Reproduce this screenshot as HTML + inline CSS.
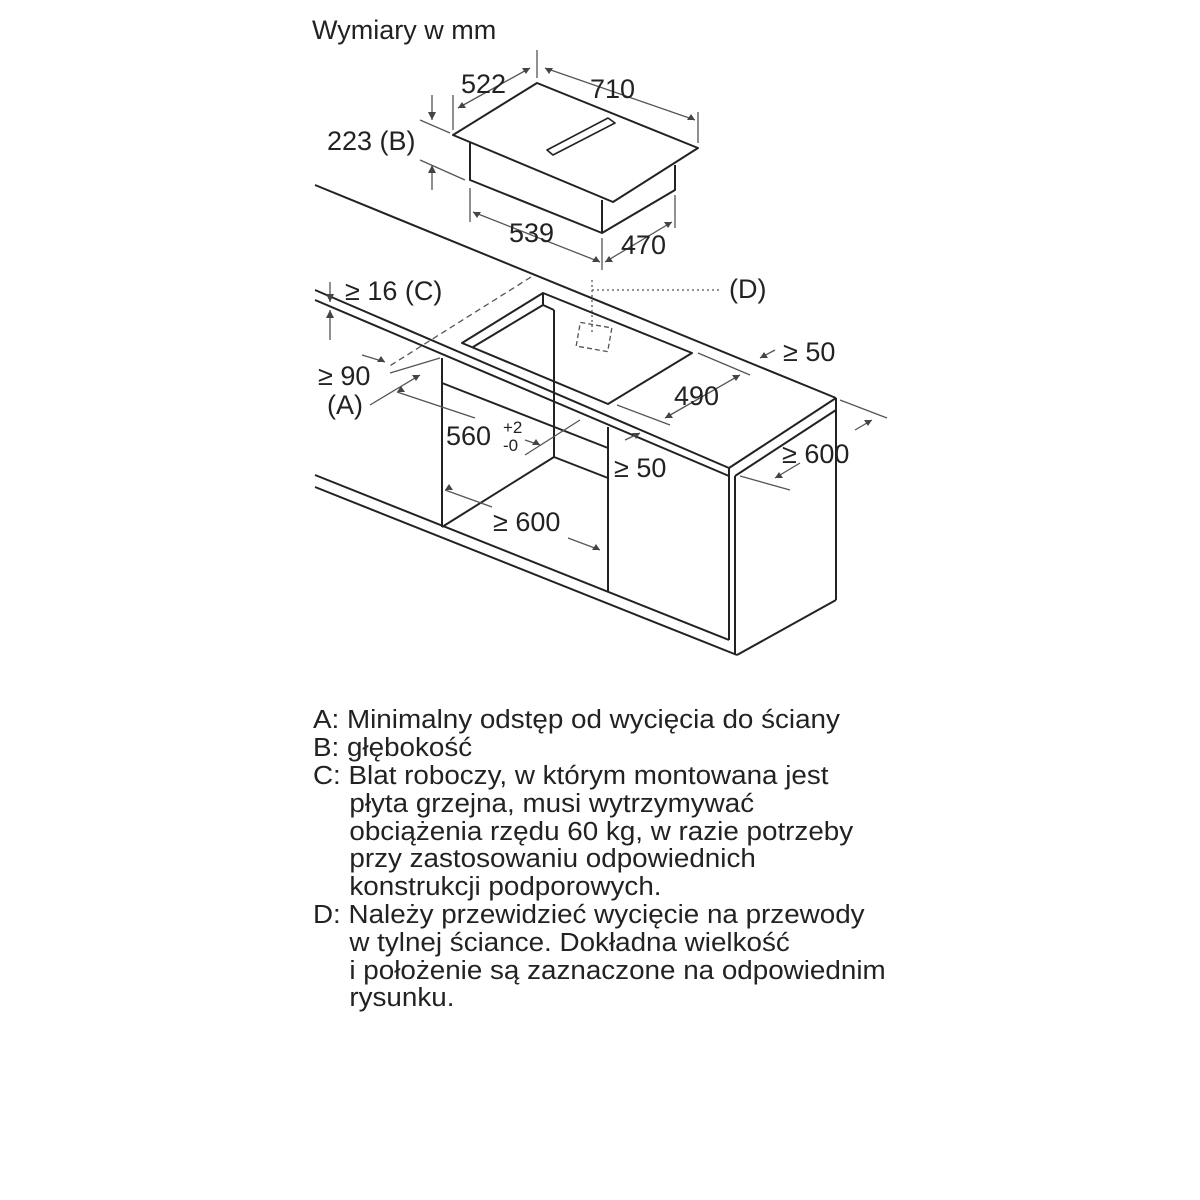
<!DOCTYPE html>
<html><head><meta charset="utf-8"><style>
html,body{margin:0;padding:0;background:#fff;}
svg{display:block}
text{font-family:"Liberation Sans",sans-serif;fill:#222;}
</style></head><body>
<svg width="1200" height="1200" viewBox="0 0 1200 1200" xmlns="http://www.w3.org/2000/svg">
<g stroke="#222" stroke-width="2" fill="none" stroke-linejoin="round">
<polygon points="537,83 698,148 613,202 453,135"/>
<polyline points="470,143 470,180 602,233 675,190 675,165"/>
<line x1="602" y1="200" x2="602" y2="233"/>
<polygon points="547,150 553,155 615,123 608,118" stroke-width="1.6"/>
<line x1="315" y1="185" x2="836" y2="398"/>
<line x1="315" y1="290" x2="729" y2="468"/>
<line x1="315" y1="300" x2="729" y2="476"/>
<line x1="729" y1="468" x2="836" y2="398"/>
<line x1="735" y1="476" x2="836" y2="410"/>
<line x1="729" y1="468" x2="729" y2="476"/>
<line x1="836" y1="398" x2="836" y2="410"/>
<line x1="735" y1="476" x2="735" y2="655"/>
<line x1="729" y1="476" x2="729" y2="640"/>
<line x1="836" y1="410" x2="836" y2="600"/>
<line x1="737" y1="655" x2="836" y2="600"/>
<line x1="315" y1="475" x2="729" y2="640"/>
<line x1="315" y1="487" x2="737" y2="655"/>
<line x1="442" y1="358" x2="442" y2="527"/>
<line x1="608" y1="427" x2="608" y2="592"/>
<line x1="442" y1="383" x2="608" y2="448"/>
<line x1="554" y1="310" x2="554" y2="457"/>
<line x1="554" y1="457" x2="608" y2="478"/>
<line x1="442" y1="527" x2="554" y2="457"/>
<polygon points="462,343 543,293 692,353 608,404"/>
<polyline points="473,347 543,305 554,310"/>
<line x1="543" y1="293" x2="543" y2="305"/>
</g>
<g stroke="#555" stroke-width="1.3" fill="none">
<line x1="531" y1="277" x2="388" y2="367" stroke-dasharray="6,4"/>
<rect x="578" y="325" width="32" height="24" stroke-dasharray="5,3" transform="rotate(10 594 337)"/>
<line x1="592" y1="290" x2="722" y2="290" stroke-dasharray="2,3"/>
<line x1="592" y1="280" x2="592" y2="335" stroke-dasharray="2,3"/>
<line x1="537" y1="50" x2="537" y2="78"/>
<line x1="453" y1="95" x2="453" y2="130"/>
<line x1="458" y1="108" x2="530" y2="68"/>
<line x1="545" y1="68" x2="695" y2="120"/>
<line x1="698" y1="112" x2="698" y2="143"/>
<line x1="432" y1="95" x2="432" y2="120"/>
<line x1="432" y1="165" x2="432" y2="190"/>
<line x1="420" y1="120" x2="450" y2="133"/>
<line x1="420" y1="160" x2="465" y2="180"/>
<line x1="470" y1="188" x2="470" y2="222"/>
<line x1="473" y1="212" x2="600" y2="262"/>
<line x1="602" y1="238" x2="602" y2="270"/>
<line x1="605" y1="262" x2="672" y2="222"/>
<line x1="675" y1="195" x2="675" y2="228"/>
<line x1="330" y1="282" x2="330" y2="302"/>
<line x1="330" y1="310" x2="330" y2="340"/>
<line x1="362" y1="355" x2="385" y2="362"/>
<line x1="420" y1="375" x2="370" y2="405"/>
<line x1="390" y1="373" x2="440" y2="358"/>
<line x1="397" y1="392" x2="475" y2="418"/>
<line x1="525" y1="440" x2="540" y2="445"/>
<line x1="525" y1="455" x2="580" y2="420"/>
<line x1="698" y1="353" x2="750" y2="375"/>
<line x1="617" y1="405" x2="670" y2="425"/>
<line x1="665" y1="418" x2="740" y2="375"/>
<line x1="625" y1="440" x2="640" y2="433"/>
<line x1="760" y1="358" x2="775" y2="350"/>
<line x1="840" y1="400" x2="887" y2="418"/>
<line x1="740" y1="476" x2="790" y2="490"/>
<line x1="775" y1="478" x2="800" y2="463"/>
<line x1="855" y1="430" x2="872" y2="420"/>
<line x1="445" y1="490" x2="492" y2="507"/>
<line x1="568" y1="538" x2="600" y2="550"/>
</g>
<g fill="#444">
<polygon points="530,68 522,68 526,74"/><polygon points="545,68 553,68 549,74"/>
<polygon points="458,108 466,108 462,102"/><polygon points="695,120 687,120 691,114"/>
<polygon points="432,120 428,112 436,112"/><polygon points="432,165 428,173 436,173"/>
<polygon points="473,212 481,212 477,218"/><polygon points="600,262 592,262 596,256"/>
<polygon points="605,262 613,262 609,256"/><polygon points="672,222 664,222 668,228"/>
<polygon points="330,302 326,294 334,294"/><polygon points="330,310 326,318 334,318"/>
<polygon points="385,362 377,362 381,356"/><polygon points="420,375 412,375 416,381"/>
<polygon points="397,392 405,392 401,386"/><polygon points="540,445 532,445 536,439"/>
<polygon points="740,375 732,375 736,381"/><polygon points="665,418 673,418 669,412"/>
<polygon points="640,433 632,433 636,439"/><polygon points="760,358 768,358 764,352"/>
<polygon points="872,420 864,420 868,426"/><polygon points="775,478 783,478 779,472"/>
<polygon points="445,490 453,490 449,484"/><polygon points="600,550 592,550 596,544"/>
</g>
<g font-size="27">
<text x="312" y="39">Wymiary w mm</text>
<text x="461" y="93">522</text>
<text x="590" y="98">710</text>
<text x="327" y="150">223 (B)</text>
<text x="509" y="242">539</text>
<text x="621" y="254">470</text>
<text x="345" y="300">≥ 16 (C)</text>
<text x="729" y="298">(D)</text>
<text x="783" y="361">≥ 50</text>
<text x="318" y="385">≥ 90</text>
<text x="327" y="414">(A)</text>
<text x="674" y="405">490</text>
<text x="446" y="445">560</text>
<text x="503" y="433" font-size="17">+2</text>
<text x="503" y="451" font-size="17">-0</text>
<text x="614" y="477">≥ 50</text>
<text x="782" y="463">≥ 600</text>
<text x="493" y="531">≥ 600</text>
</g>
<g font-size="26" transform="translate(313 0) scale(1.07 1) translate(-313 0)">
<text x="313" y="728">A: Minimalny odstęp od wycięcia do ściany</text>
<text x="313" y="756">B: głębokość</text>
<text x="313" y="784">C: Blat roboczy, w którym montowana jest</text>
<text x="347" y="812">płyta grzejna, musi wytrzymywać</text>
<text x="347" y="840">obciążenia rzędu 60 kg, w razie potrzeby</text>
<text x="347" y="867">przy zastosowaniu odpowiednich</text>
<text x="347" y="895">konstrukcji podporowych.</text>
<text x="313" y="923">D: Należy przewidzieć wycięcie na przewody</text>
<text x="347" y="951">w tylnej ściance. Dokładna wielkość</text>
<text x="347" y="979">i położenie są zaznaczone na odpowiednim</text>
<text x="347" y="1006">rysunku.</text>
</g>
</svg>
</body></html>
